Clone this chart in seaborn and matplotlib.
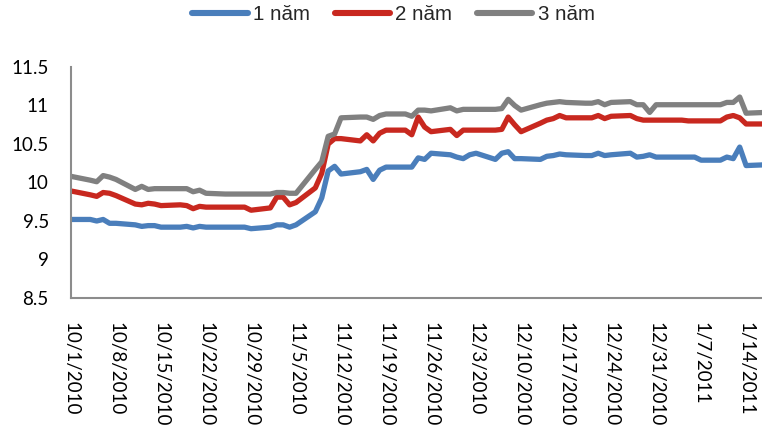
import matplotlib
matplotlib.use("Agg")
import matplotlib.pyplot as plt
import matplotlib.dates as mdates
from matplotlib.ticker import FuncFormatter, FixedLocator
import numpy as np
import pandas as pd
import seaborn as sns

# Trading days from 1 Oct 2010 to 17 Jan 2011
dates = pd.bdate_range("2010-10-01", "2011-01-17")

series_names = ["1 năm", "2 năm", "3 năm"]

yield_1y = [
    9.52, 9.52, 9.50, 9.52, 9.47, 9.47, 9.45, 9.43, 9.44, 9.44, 9.42,
    9.42, 9.43, 9.41, 9.43, 9.42, 9.42, 9.42, 9.42, 9.42, 9.40,
    9.42, 9.45, 9.45, 9.42, 9.45, 9.62, 9.80, 10.15, 10.21, 10.11, 10.14,
    10.17, 10.04, 10.16, 10.20, 10.20, 10.20, 10.32, 10.30, 10.38, 10.36, 10.33,
    10.31, 10.36, 10.38, 10.30, 10.38, 10.40, 10.31, 10.31, 10.30, 10.34, 10.35,
    10.37, 10.36, 10.35, 10.35, 10.38, 10.35, 10.36, 10.38, 10.33, 10.34, 10.36, 10.33,
    10.33, 10.33, 10.33, 10.33, 10.29, 10.29, 10.33, 10.31, 10.46, 10.22, 10.23,
]
yield_2y = [
    9.89, 9.84, 9.82, 9.87, 9.86, 9.83, 9.72, 9.71, 9.73, 9.72, 9.70,
    9.71, 9.70, 9.66, 9.69, 9.68, 9.68, 9.68, 9.68, 9.68, 9.64,
    9.67, 9.81, 9.81, 9.71, 9.74, 9.93, 10.12, 10.50, 10.57, 10.57, 10.54,
    10.62, 10.54, 10.64, 10.68, 10.68, 10.62, 10.85, 10.72, 10.66, 10.69, 10.61,
    10.68, 10.68, 10.68, 10.68, 10.69, 10.85, 10.75, 10.66, 10.77, 10.81, 10.83,
    10.87, 10.84, 10.84, 10.84, 10.87, 10.83, 10.86, 10.87, 10.83, 10.81, 10.81, 10.81,
    10.81, 10.81, 10.80, 10.80, 10.80, 10.80, 10.85, 10.87, 10.84, 10.76, 10.76,
]
yield_3y = [
    10.08, 10.03, 10.01, 10.09, 10.07, 10.04, 9.91, 9.95, 9.91, 9.92, 9.92,
    9.92, 9.92, 9.88, 9.90, 9.86, 9.85, 9.85, 9.85, 9.85, 9.85,
    9.85, 9.87, 9.87, 9.86, 9.86, 10.17, 10.27, 10.60, 10.63, 10.84, 10.85,
    10.85, 10.82, 10.87, 10.89, 10.89, 10.86, 10.94, 10.94, 10.93, 10.97, 10.93,
    10.95, 10.95, 10.95, 10.95, 10.96, 11.08, 11.00, 10.94, 11.01, 11.03, 11.04,
    11.05, 11.04, 11.03, 11.03, 11.05, 11.01, 11.04, 11.05, 11.01, 11.01, 10.91, 11.01,
    11.01, 11.01, 11.01, 11.01, 11.01, 11.01, 11.04, 11.04, 11.11, 10.90, 10.91,
]

y_ticks = [8.5, 9, 9.5, 10, 10.5, 11, 11.5]
colors = ["#4A7EBB", "#C8281F", "#808080"]

df = pd.DataFrame({"date": dates, series_names[0]: yield_1y,
                   series_names[1]: yield_2y, series_names[2]: yield_3y})
long = df.melt(id_vars="date", var_name="kỳ hạn", value_name="lãi suất")

sns.set_style("white")
plt.rcParams["font.family"] = ["Lato", "DejaVu Sans"]

fig = plt.figure(figsize=(7.62, 4.25), dpi=100)
ax = fig.add_axes([71 / 762, (425 - 298) / 425, (762 - 71) / 762, (298 - 67) / 425])

sns.lineplot(data=long, x="date", y="lãi suất", hue="kỳ hạn",
             hue_order=series_names, palette=colors, linewidth=3.8,
             ax=ax, legend=False)
for ln in ax.get_lines():
    ln.set_solid_capstyle("round")
    ln.set_solid_joinstyle("round")

start = pd.Timestamp("2010-10-01")
ax.set_xlim(start, start + pd.Timedelta(days=107.47))
ax.set_ylim(8.5, 11.5)

xticks = pd.date_range(start, "2011-01-14", freq="7D")
ax.xaxis.set_major_locator(FixedLocator(mdates.date2num(xticks)))
ax.xaxis.set_major_formatter(FuncFormatter(
    lambda v, p: (lambda d: f"{d.month}/{d.day}/{d.year}")(mdates.num2date(v))))
ax.set_yticks(y_ticks)
ax.yaxis.set_major_formatter(FuncFormatter(lambda v, p: f"{v:g}"))

ax.set_xlabel("")
ax.set_ylabel("")
for side in ["top", "right"]:
    ax.spines[side].set_visible(False)
for side in ["left", "bottom"]:
    ax.spines[side].set_color("#8C8C8C")
    ax.spines[side].set_linewidth(1.5)

ax.tick_params(axis="both", which="major", direction="out", length=5,
               width=1.3, color="#8C8C8C", labelsize=13.5, labelcolor="black")
ax.tick_params(axis="y", pad=11)
ax.tick_params(axis="x", pad=12)
for lbl in ax.get_xticklabels():
    lbl.set_rotation(-90)
    lbl.set_ha("center")
    lbl.set_va("top")

handles = [plt.Line2D([0], [0], color=c, lw=4.4, solid_capstyle="round")
           for c in colors]
leg = fig.legend(handles, series_names, loc="center",
                 bbox_to_anchor=(393.5 / 762, 1 - 15 / 425), ncol=3,
                 frameon=False, handlelength=2.7, handletextpad=0.25,
                 columnspacing=1.2,
                 prop={"family": ["Liberation Sans", "DejaVu Sans"], "size": 14.8})

fig.savefig("out.png", dpi=100)
